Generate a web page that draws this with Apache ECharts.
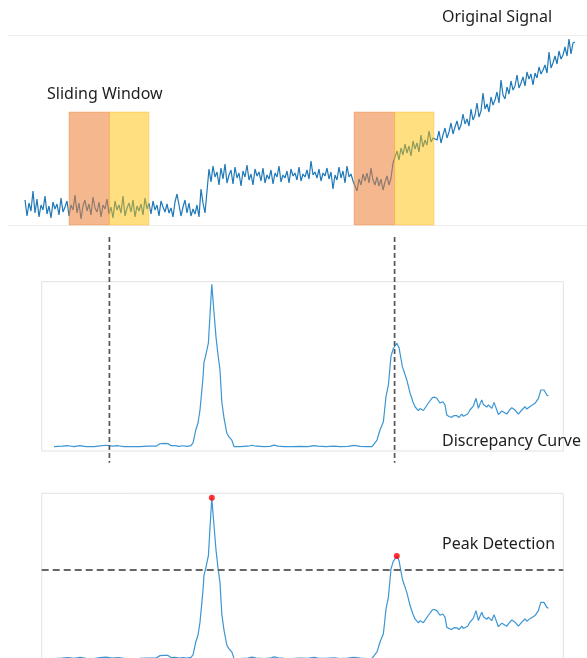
<!DOCTYPE html>
<html>
<head>
<meta charset="utf-8">
<script src="https://cdn.jsdelivr.net/npm/echarts@6/dist/echarts.min.js"></script>
<style>
html,body{margin:0;padding:0;background:#fff;}
#chart{width:587px;height:658px;}
</style>
</head>
<body>
<div id="chart"></div>
<script>
// ---- Data ----
// Original signal (sample index = position, values in arbitrary units)
const signal = [
  2.5,0.9,2.2,1.4,3.4,1.2,2.6,0.8,2.0,1.5,2.9,1.1,1.9,0.7,2.3,1.6,2.1,1.0,2.7,1.3,
  1.8,2.4,0.9,2.0,1.5,3.0,1.2,2.2,0.6,1.9,2.5,1.4,2.1,1.0,2.8,1.7,1.3,2.3,0.8,2.0,
  1.6,2.6,1.1,1.8,0.7,2.4,1.5,2.0,1.2,2.9,0.9,1.7,2.2,1.3,2.5,0.8,1.9,1.4,2.1,1.0,
  2.7,1.6,2.2,1.1,2.4,1.5,2.0,0.9,2.4,1.8,1.3,2.1,1.2,1.7,0.8,2.3,3.1,2.0,0.9,1.8,
  2.5,1.2,2.2,0.9,1.6,1.1,2.0,0.8,3.6,2.2,1.2,1.3,
  5.6,4.3,5.9,4.8,5.3,4.0,5.7,4.6,6.1,4.2,5.0,5.5,4.1,5.8,4.7,5.2,3.9,5.4,4.8,6.0,
  4.5,5.1,4.0,5.6,4.9,5.3,4.4,5.7,4.2,5.0,4.6,5.5,4.1,5.2,4.8,5.9,4.3,5.0,4.7,5.4,
  4.2,5.6,4.9,5.2,4.5,5.8,4.4,5.1,4.8,5.5,4.6,6.4,5.0,5.3,4.7,5.6,4.4,5.2,4.9,5.7,
  4.6,5.3,3.6,5.0,4.5,5.8,4.7,5.4,4.2,5.9,4.8,5.1,4.4,
  4.3,3.4,4.6,4.0,5.1,4.4,5.2,4.2,5.7,4.5,4.0,4.8,3.9,4.6,3.5,4.3,4.9,4.0,4.7,6.2,
  6.8,7.4,6.5,7.7,7.0,8.1,7.2,7.9,6.9,8.4,7.6,8.2,7.3,9.0,7.8,8.5,8.0,9.4,8.3,8.7,
  8.9,8.5,9.4,8.2,9.0,9.7,8.7,9.3,10.2,9.1,9.8,10.4,9.5,10.0,11.1,10.1,10.6,9.9,11.6,10.5,
  11.0,12.2,10.8,11.4,13.2,11.6,12.1,11.3,12.8,12.0,12.5,13.3,12.2,14.5,13.0,12.6,13.8,13.1,14.4,13.5,
  13.9,15.0,13.7,14.2,14.8,13.9,15.3,14.6,15.1,14.0,15.2,14.7,15.8,15.1,15.5,16.0,15.2,17.3,15.7,16.2,
  16.9,16.1,17.4,16.6,17.0,17.8,16.9,18.6,17.1,18.2,18.3
];

// Discrepancy curve: sample positions and values
const discT = [
  14.5,18.5,21.5,24.5,27.5,30.5,34.5,37.5,40.5,43.5,46.5,49.5,53.5,57.5,61.5,65.5,67.5,69.5,71.5,73,
  75,77,79,81,83,84,85.4,86.5,87.5,88.9,89.5,90.3,91.7,92.5,93.4,94,95.5,96.5,97.5,98.4,
  99.5,100.9,102,103.4,104.5,107.5,111.5,113.5,115.5,119.5,122.5,124.5,126.5,129.5,133.5,137.5,141.5,144.5,146.5,150.5,
  154.5,157.5,161.5,164.5,167.5,170.5,173.5,174.5,176,177.5,179.2,180.5,181.7,183,184.2,185,185.9,187,187.9,188.7,
  189.5,190.9,192.5,194,195,196.7,197.5,198.4,199.2,200,201.7,203.7,204.8,205.9,207.5,208.9,210,210.9,212,213.4,
  214.5,215.9,217,218.4,219.2,220,221.3,222.5,224.2,225.5,226.7,227.5,228.4,229.2,230,230.9,231.7,233.4,234.5,235.9,
  236.7,237.5,238.4,239.2,240.9,242,243.4,244.2,245,246.7,248.4,250,250.9,251.7,252.5,253.4,255,256.7,257.9,258.7,
  259.5,260.9,261.7
];
const discV = [
  0.000,0.003,0.006,0.001,0.007,0.001,0.000,0.005,0.009,0.003,0.006,0.001,0.000,0.001,0.003,0.003,0.018,0.020,0.019,0.006,
  0.007,0.002,0.006,0.002,0.007,0.023,0.103,0.146,0.226,0.410,0.520,0.558,0.640,0.812,1.000,0.903,0.675,0.565,0.472,0.277,
  0.177,0.084,0.060,0.041,0.001,0.000,0.003,0.009,0.003,0.000,0.002,0.010,0.004,0.001,0.000,0.002,0.001,0.007,0.003,0.001,
  0.004,0.000,0.002,0.008,0.002,0.000,0.001,0.010,0.041,0.103,0.154,0.308,0.380,0.558,0.606,0.620,0.637,0.610,0.606,0.493,
  0.497,0.411,0.331,0.275,0.246,0.222,0.235,0.236,0.223,0.232,0.269,0.302,0.305,0.298,0.269,0.277,0.257,0.195,0.186,0.181,
  0.192,0.191,0.180,0.201,0.187,0.175,0.201,0.226,0.251,0.298,0.236,0.263,0.288,0.260,0.267,0.244,0.257,0.236,0.273,0.226,
  0.198,0.195,0.220,0.216,0.201,0.220,0.240,0.229,0.226,0.201,0.226,0.246,0.232,0.226,0.248,0.257,0.267,0.298,0.349,0.352,
  0.349,0.318,0.312
];

// Sliding windows: [start, boundary, end] sample positions
const windows = [[22, 42.2, 62], [164.5, 184.8, 204.5]];
const windowTop = 11.3;
const threshold = 0.55;

// ---- Build ----
const signalData = signal.map((v, i) => [i, v]);
const discData = discT.map((t, i) => [t, discV[i]]);

// find peaks above threshold (max within each region above threshold)
const peaks = [];
let cur = null;
discData.forEach(p => {
  if (p[1] > threshold) {
    if (!cur || p[1] > cur[1]) cur = p;
  } else if (cur) { peaks.push(cur); cur = null; }
});
if (cur) peaks.push(cur);

const chart = echarts.init(document.getElementById('chart'), null, {renderer: 'canvas'});

const hiddenX = (idx, min, max) => ({type: 'value', gridIndex: idx, min, max, show: false});

const label = (x, y, t) => ({
  type: 'text', left: x, top: y,
  style: {text: t, font: '16px "Noto Sans", sans-serif', fill: '#1e1e1e'}
});

chart.setOption({
  animation: false,
  backgroundColor: '#ffffff',
  grid: [
    {left: 8, right: 0, top: 35, height: 190, outerBoundsMode: 'none'},
    {left: 41.7, width: 521.6, top: 281.7, height: 169.3, show: true, borderColor: '#e2e2e2', borderWidth: 1, outerBoundsMode: 'none'},
    {left: 41.7, width: 521.6, top: 493.3, height: 169.4, show: true, borderColor: '#e2e2e2', borderWidth: 1, outerBoundsMode: 'none'}
  ],
  xAxis: [
    hiddenX(0, -8.5, 281),
    hiddenX(1, 8.35, 269.15),
    hiddenX(2, 8.35, 269.15)
  ],
  yAxis: [
    {type: 'value', gridIndex: 0, min: 0, max: 19, interval: 19,
     axisLabel: {show: false}, axisTick: {show: false}, axisLine: {show: false},
     splitLine: {show: true, lineStyle: {color: '#ededed', width: 1}}},
    {type: 'value', gridIndex: 1, min: -0.0265, max: 1.016, show: false},
    {type: 'value', gridIndex: 2, min: -0.026, max: 1.0274, show: false}
  ],
  series: [
    {
      type: 'line', xAxisIndex: 0, yAxisIndex: 0, data: signalData,
      showSymbol: false, symbol: 'none', z: 2,
      lineStyle: {color: '#1f78b8', width: 1.2}
    },
    {
      type: 'custom', xAxisIndex: 0, yAxisIndex: 0, z: 5, data: windows,
      renderItem: (params, api) => {
        const a = api.coord([api.value(0), windowTop]);
        const b = api.coord([api.value(1), 0]);
        const c = api.coord([api.value(2), windowTop]);
        return {type: 'group', children: [
          {type: 'rect', shape: {x: a[0], y: a[1], width: b[0] - a[0], height: b[1] - a[1]},
           style: {fill: 'rgba(237,125,49,0.55)', stroke: 'rgba(237,125,49,0.35)', lineWidth: 1}},
          {type: 'rect', shape: {x: b[0], y: c[1], width: c[0] - b[0], height: b[1] - c[1]},
           style: {fill: 'rgba(255,192,0,0.5)', stroke: 'rgba(255,170,40,0.35)', lineWidth: 1}}
        ]};
      }
    },
    {
      type: 'custom', xAxisIndex: 1, yAxisIndex: 1, z: 6, clip: false,
      data: windows.map(w => [w[1], 1.291, -0.0985]),
      renderItem: (params, api) => {
        const p0 = api.coord([api.value(0), api.value(1)]);
        const p1 = api.coord([api.value(0), api.value(2)]);
        return {type: 'line', shape: {x1: p0[0], y1: p0[1], x2: p1[0], y2: p1[1]},
                style: {stroke: '#555555', lineWidth: 1.7, lineDash: [5, 3]}};
      }
    },
    {
      type: 'line', xAxisIndex: 1, yAxisIndex: 1, data: discData,
      showSymbol: false, symbol: 'none', z: 3,
      lineStyle: {color: '#3b96d3', width: 1.2}
    },
    {
      type: 'line', xAxisIndex: 2, yAxisIndex: 2, data: discData,
      showSymbol: false, symbol: 'none', z: 3,
      lineStyle: {color: '#3b96d3', width: 1.2},
      markLine: {
        silent: true, symbol: 'none', label: {show: false},
        lineStyle: {color: '#666666', width: 1.8, type: [7, 4]},
        data: [{yAxis: threshold}]
      }
    },
    {
      type: 'scatter', xAxisIndex: 2, yAxisIndex: 2, data: peaks, z: 8,
      symbolSize: 6, itemStyle: {color: '#ff0000'}
    }
  ],
  graphic: [
    label(442, 9, 'Original Signal'),
    label(47, 86, 'Sliding Window'),
    label(442, 433, 'Discrepancy Curve'),
    label(442, 536, 'Peak Detection')
  ]
});
</script>
</body>
</html>
